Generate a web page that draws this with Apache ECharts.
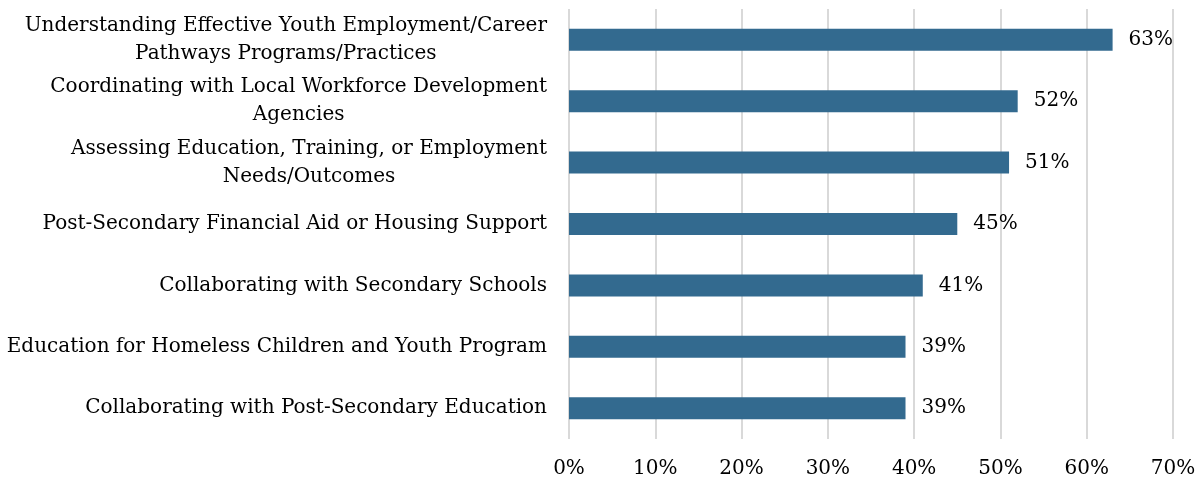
<!DOCTYPE html>
<html>
<head>
<meta charset="utf-8">
<script src="https://cdn.jsdelivr.net/npm/echarts@6/dist/echarts.min.js"></script>
<style>
  html, body { margin: 0; padding: 0; background: #ffffff; }
  #chart { width: 1199px; height: 481px; }
</style>
</head>
<body>
<div id="chart"></div>
<script>
// Topic areas, listed top to bottom
const categories = [
  'Understanding Effective Youth Employment/Career\nPathways Programs/Practices',
  'Coordinating with Local Workforce Development\nAgencies',
  'Assessing Education, Training, or Employment\nNeeds/Outcomes',
  'Post-Secondary Financial Aid or Housing Support',
  'Collaborating with Secondary Schools',
  'Education for Homeless Children and Youth Program',
  'Collaborating with Post-Secondary Education'
];
// Share of respondents, percent
const values = [63, 52, 51, 45, 41, 39, 39];
// Horizontal axis ticks, percent
const xTicks = [0, 10, 20, 30, 40, 50, 60, 70];

const FONT = '"DejaVu Serif", serif';
const chart = echarts.init(document.getElementById('chart'), null, { renderer: 'canvas' });

chart.setOption({
  animation: false,
  grid: { left: 569, right: 26, top: 9, bottom: 42, containLabel: false },
  xAxis: {
    type: 'value',
    min: xTicks[0],
    max: xTicks[xTicks.length - 1],
    interval: 10,
    axisLine: { show: false },
    axisTick: { show: false },
    splitLine: { show: true, lineStyle: { color: '#d9d9d9', width: 2 } },
    axisLabel: {
      margin: 20,
      fontFamily: FONT, fontSize: 20, color: '#000000',
      formatter: v => v + '%'
    }
  },
  yAxis: {
    type: 'category',
    inverse: true,
    data: categories,
    axisLine: { show: false },
    axisTick: { show: false },
    axisLabel: {
      margin: 22,
      align: 'right',
      // each line centred inside a right-aligned block
      formatter: v => v.split('\n').map(s => '{c|' + s + '}').join('\n'),
      rich: {
        c: {
          align: 'center',
          fontFamily: FONT, fontSize: 20, color: '#000000', lineHeight: 28
        }
      }
    }
  },
  series: [{
    type: 'bar',
    data: values,
    barWidth: 22,
    itemStyle: { color: '#336a8f' },
    label: {
      show: true, position: 'right', distance: 16,
      fontFamily: FONT, fontSize: 20, color: '#000000',
      formatter: p => p.value + '%'
    }
  }]
});
</script>
</body>
</html>
